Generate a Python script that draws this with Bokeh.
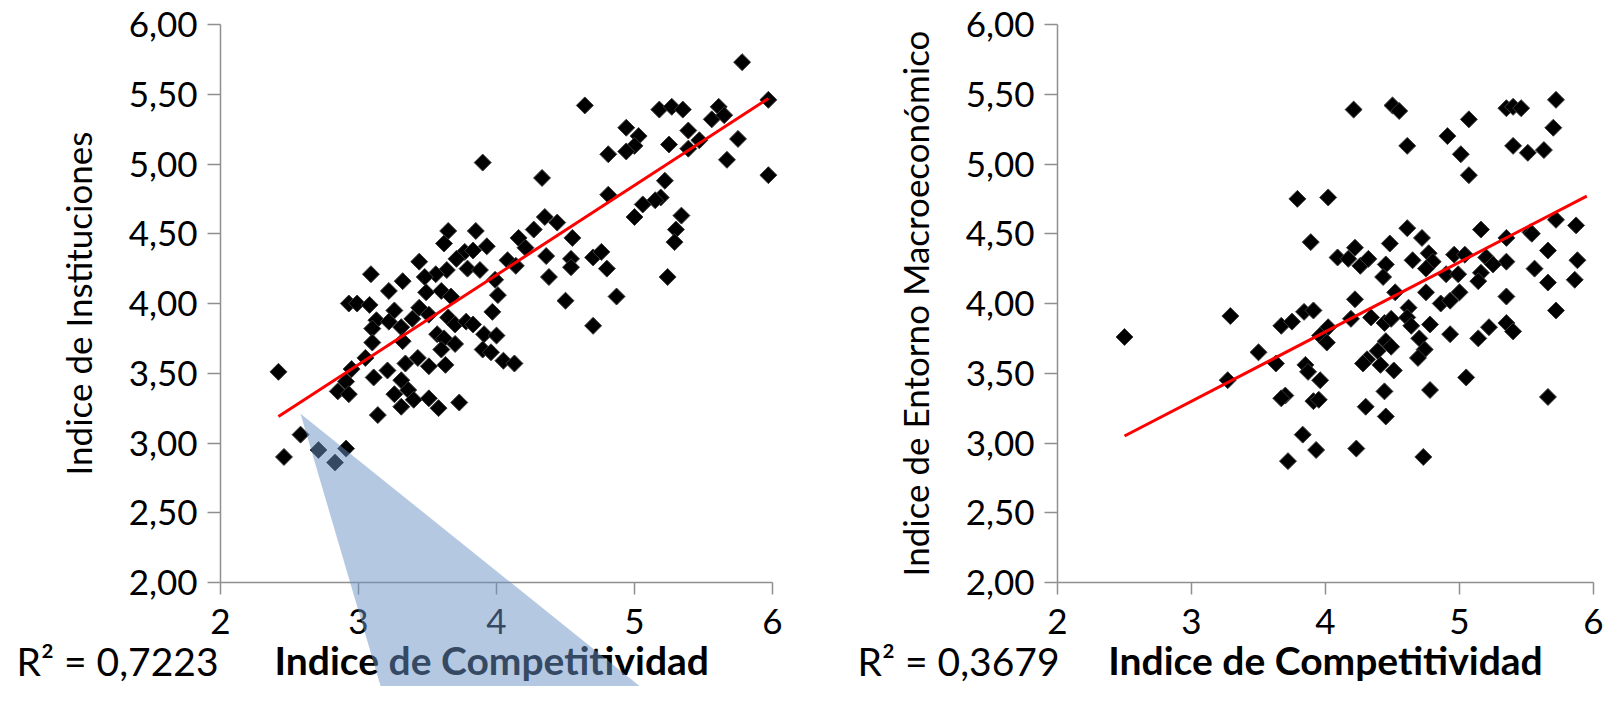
import numpy as np
from bokeh.plotting import figure
from bokeh.models import Range1d, LinearAxis, FixedTicker, Label
from bokeh.layouts import row
from bokeh.embed import file_html
from bokeh.resources import INLINE

# ---------------- data ----------------
# Panel 1: Indice de Competitividad (x) vs Indice de Instituciones (y)
inst_x = [5.78, 4.64, 5.18, 5.27, 5.35, 5.61, 5.56, 5.65, 5.97, 5.97,
          4.94, 5.03, 5.00, 4.94, 4.81, 5.39, 5.47, 5.39, 5.25, 5.75,
          5.67, 3.90, 4.33, 5.22, 4.81, 5.19, 5.15, 5.06, 5.00, 5.34,
          5.30, 5.29, 5.24, 4.35, 4.44, 4.27, 4.55, 4.16, 4.21, 4.08,
          4.14, 4.36, 4.54, 4.54, 4.70, 4.76, 4.80, 4.38, 4.87, 4.50,
          3.99, 4.01, 3.65, 3.85, 3.62, 3.93, 3.77, 3.83, 3.71, 3.79,
          3.88, 3.64, 3.56, 3.48, 3.44, 3.32, 3.22, 3.09, 3.49, 3.60,
          3.67, 2.93, 2.99, 3.08,
          4.70, 3.26, 3.44, 3.97, 3.13, 3.22, 3.10, 3.31, 3.39, 3.51,
          3.65, 3.70, 3.78, 3.83, 3.32, 3.10, 3.57, 3.62, 3.70, 3.60,
          3.91, 4.00, 3.90, 3.96, 4.05, 4.13, 3.05, 3.34, 3.43, 3.51,
          3.63, 2.95, 2.91, 2.85, 2.93, 2.42, 3.11, 3.21, 3.31, 3.36,
          3.26, 3.40, 3.51, 3.31, 3.58, 3.73, 3.14, 2.58, 2.46, 2.71,
          2.83, 2.91]
inst_y = [5.73, 5.42, 5.39, 5.41, 5.39, 5.41, 5.32, 5.35, 5.46, 4.92,
          5.26, 5.20, 5.13, 5.09, 5.07, 5.24, 5.17, 5.11, 5.14, 5.18,
          5.03, 5.01, 4.90, 4.88, 4.78, 4.76, 4.74, 4.71, 4.62, 4.63,
          4.53, 4.44, 4.19, 4.62, 4.58, 4.53, 4.47, 4.47, 4.40, 4.31,
          4.27, 4.34, 4.32, 4.26, 4.33, 4.37, 4.25, 4.19, 4.05, 4.02,
          4.17, 4.06, 4.52, 4.52, 4.43, 4.41, 4.37, 4.38, 4.32, 4.25,
          4.24, 4.24, 4.21, 4.19, 4.30, 4.16, 4.09, 4.21, 4.08, 4.09,
          4.05, 4.00, 4.00, 3.99,
          3.84, 3.95, 3.97, 3.94, 3.88, 3.87, 3.82, 3.83, 3.89, 3.92,
          3.90, 3.85, 3.87, 3.85, 3.73, 3.72, 3.78, 3.75, 3.71, 3.67,
          3.78, 3.77, 3.67, 3.65, 3.59, 3.57, 3.61, 3.57, 3.61, 3.55,
          3.56, 3.53, 3.44, 3.37, 3.35, 3.51, 3.47, 3.52, 3.45, 3.38,
          3.35, 3.31, 3.32, 3.26, 3.25, 3.29, 3.20, 3.06, 2.90, 2.95,
          2.86, 2.96]

# Panel 2: Indice de Competitividad (x) vs Indice de Entorno Macroeconómico (y)
macro_x = [4.21, 4.50, 4.55, 5.07, 4.91, 4.61, 5.01, 5.07, 5.35, 5.40,
           5.46, 5.72, 5.70, 5.40, 5.51, 5.63, 3.79, 4.02, 3.89, 4.61,
           4.72, 5.16, 5.35, 5.53, 5.66, 5.72, 4.22, 4.09, 4.17, 4.26,
           4.32, 4.48, 4.45, 4.43, 4.65, 4.77, 4.80, 4.75, 4.96, 5.04,
           4.90, 4.99, 5.16, 5.14, 5.35, 5.56, 5.66, 5.20, 5.25, 4.52,
           4.75, 4.22, 5.00, 5.35,
           2.50, 3.29, 3.27, 3.50, 3.63, 3.67, 3.75, 3.84, 3.91, 4.02,
           3.96, 4.01, 3.85, 3.87, 3.96, 3.70, 3.67, 3.91, 3.95, 3.83,
           3.93, 3.72, 4.23, 4.73, 4.19, 4.34, 4.44, 4.49, 4.31, 4.28,
           4.41, 4.51, 4.45, 4.49, 4.39, 4.62, 4.61, 4.64, 4.78, 4.70,
           4.74, 4.69, 4.86, 4.93, 4.93, 5.14, 5.22, 5.35, 5.40, 5.05,
           4.78, 4.44, 4.30, 4.45, 5.66, 5.72, 5.87, 5.88, 5.86, 5.54]
macro_y = [5.39, 5.42, 5.38, 5.32, 5.20, 5.13, 5.07, 4.92, 5.40, 5.41,
           5.40, 5.46, 5.26, 5.13, 5.08, 5.10, 4.75, 4.76, 4.44, 4.54,
           4.47, 4.53, 4.47, 4.51, 4.38, 4.60, 4.40, 4.33, 4.32, 4.27,
           4.32, 4.43, 4.28, 4.19, 4.31, 4.36, 4.30, 4.25, 4.35, 4.35,
           4.21, 4.21, 4.22, 4.16, 4.30, 4.25, 4.15, 4.33, 4.28, 4.08,
           4.08, 4.03, 4.08, 4.05,
           3.76, 3.91, 3.45, 3.65, 3.57, 3.84, 3.87, 3.94, 3.95, 3.83,
           3.77, 3.72, 3.56, 3.51, 3.45, 3.34, 3.32, 3.30, 3.31, 3.06,
           2.95, 2.87, 2.96, 2.90, 3.89, 3.90, 3.86, 3.89, 3.60, 3.57,
           3.56, 3.52, 3.73, 3.69, 3.66, 3.97, 3.90, 3.84, 3.85, 3.75,
           3.67, 3.61, 4.00, 4.02, 3.78, 3.75, 3.83, 3.86, 3.80, 3.47,
           3.38, 3.37, 3.26, 3.19, 3.33, 3.95, 4.56, 4.31, 4.17, 4.50]

# linear trend lines (x range, y at its ends)
inst_trend_x = [2.42, 5.97]
inst_trend_y = [3.19, 5.47]
macro_trend_x = [2.50, 5.95]
macro_trend_y = [3.05, 4.77]

x_ticks = [2, 3, 4, 5, 6]
x_tick_labels = ["2", "3", "4", "5", "6"]
y_ticks = [2.0, 2.5, 3.0, 3.5, 4.0, 4.5, 5.0, 5.5, 6.0]
y_tick_labels = ["2,00", "2,50", "3,00", "3,50", "4,00", "4,50", "5,00", "5,50", "6,00"]

r2_texts = ["R\u00b2 = 0,7223", "R\u00b2 = 0,3679"]
y_titles = ["Indice de Instituciones", "Indice de Entorno Macroecon\u00f3mico"]
x_titles = ["Indice  de Competitividad", "Indice de Competitividad"]

# light-blue callout wedge (data coordinates of left panel)
callout_x = [2.58, 3.385, 5.99]
callout_y = [3.21, 0.50, 0.50]

# ---------------- styling ----------------
FONT = "Lato"
H = 686
AXIS_COLOR = "#8f8f8f"


def panel(xs, ys, tx, ty, W, X2, X6, Y6, Y2, ytitle, xtitle, r2, r2_right_px,
          r2_mid_px, callout=None):
    ux = (X6 - X2) / 4.0
    uy = (Y2 - Y6) / 4.0
    xr = Range1d(2 - X2 / ux, 2 + (W - X2) / ux)
    yr = Range1d(2 - (H - Y2) / uy, 6 + Y6 / uy)
    p = figure(width=W, height=H, x_range=xr, y_range=yr,
               x_axis_type=None, y_axis_type=None,
               toolbar_location=None, output_backend="svg", min_border=0)
    p.outline_line_color = None
    p.background_fill_color = "white"

    xa = LinearAxis(fixed_location=2.0, bounds=(2, 6),
                    ticker=FixedTicker(ticks=x_ticks),
                    major_label_overrides={t: l for t, l in zip(x_ticks, x_tick_labels)},
                    axis_label=xtitle)
    ya = LinearAxis(fixed_location=2.0, bounds=(2, 6),
                    ticker=FixedTicker(ticks=y_ticks),
                    major_label_overrides={t: l for t, l in zip(y_ticks, y_tick_labels)},
                    axis_label=ytitle)
    for a in (xa, ya):
        a.axis_line_color = AXIS_COLOR
        a.axis_line_width = 1.5
        a.major_tick_line_color = AXIS_COLOR
        a.major_tick_line_width = 1.5
        a.major_tick_in = 0
        a.minor_tick_line_color = None
        a.major_label_text_font = FONT
        a.major_label_text_color = "black"
        a.axis_label_text_font = FONT
        a.axis_label_text_color = "black"
    xa.major_tick_out = 12
    xa.major_label_text_font_size = "35px"
    xa.major_label_standoff = 14
    xa.axis_label_text_font_size = "39px"
    xa.axis_label_text_font_style = "bold"
    xa.axis_label_standoff = 0
    ya.major_tick_out = 13
    ya.major_label_text_font_size = "35px"
    ya.major_label_standoff = 10
    ya.axis_label_text_font_size = "35px"
    ya.axis_label_text_font_style = "normal"
    ya.axis_label_standoff = 27
    p.add_layout(xa, "below")
    p.add_layout(ya, "left")

    p.scatter(xs, ys, marker="square", size=12, angle=np.pi / 4,
              fill_color="black", line_color="#3a3a3a", line_width=1)

    p.line(tx, ty, line_color="#FF0000", line_width=3)

    lab = Label(x=2 - (X2 - r2_right_px) / ux, y=2 - (r2_mid_px - Y2) / uy, text=r2,
                text_font=FONT, text_font_size="39px", text_color="black",
                text_align="right", text_baseline="middle")
    p.add_layout(lab)

    if callout is not None:
        r = p.patch(callout[0], callout[1], fill_color="#6991C5", fill_alpha=0.5,
                    line_color=None)
        r.level = "overlay"
    return p


left = panel(inst_x, inst_y, inst_trend_x, inst_trend_y, 797, 220, 772, 24, 582,
             y_titles[0], x_titles[0], r2_texts[0], 218, 660, (callout_x, callout_y))
right = panel(macro_x, macro_y, macro_trend_x, macro_trend_y, 806, 260, 796, 24, 582,
              y_titles[1], x_titles[1], r2_texts[1], 262, 660)

layout = row(left, right)
open("out.html", "w").write(file_html(layout, INLINE))
